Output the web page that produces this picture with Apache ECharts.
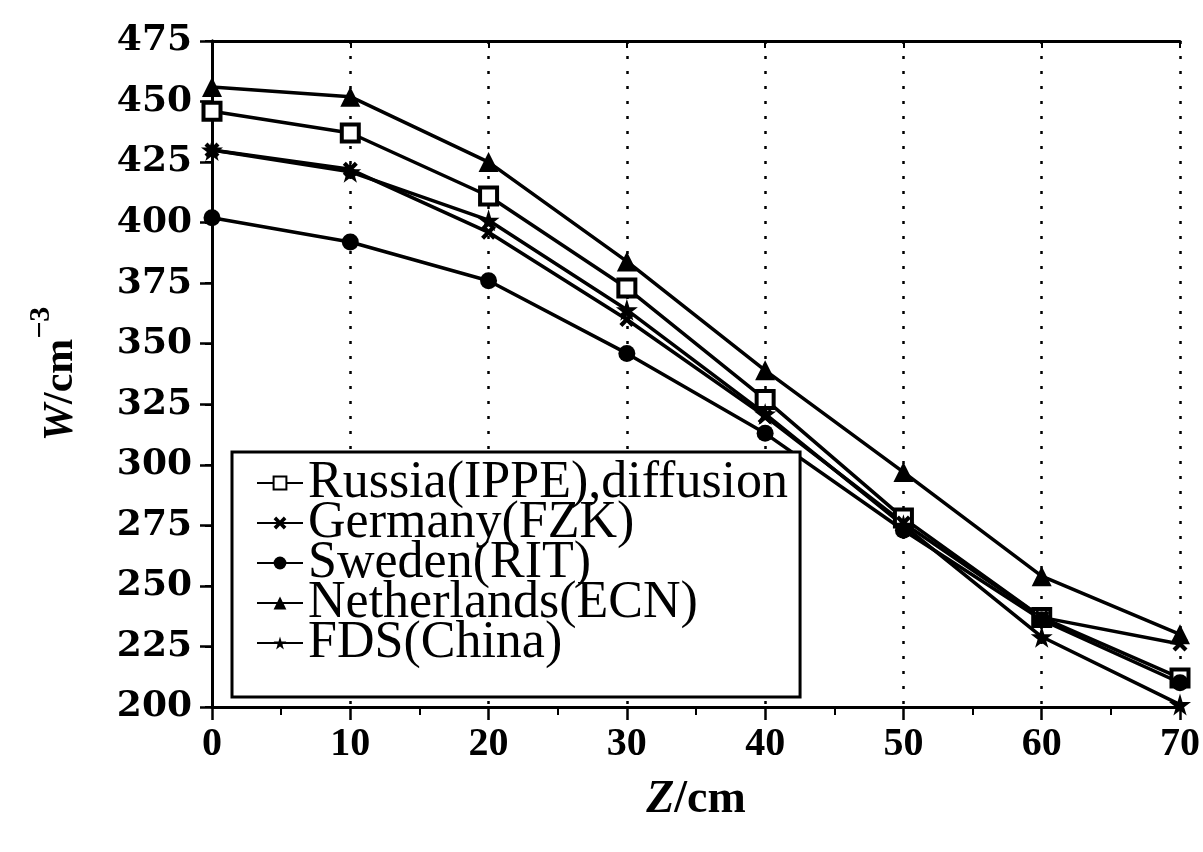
<!DOCTYPE html>
<html><head><meta charset="utf-8">
<script src="https://cdn.jsdelivr.net/npm/echarts@6/dist/echarts.min.js"></script>
<style>html,body{margin:0;padding:0;background:#fff}#c{width:1203px;height:852px}</style>
</head><body><div id="c"></div><script>
const zValues = [0, 10, 20, 30, 40, 50, 60, 70];
const seriesNames = ['Russia(IPPE),diffusion', 'Germany(FZK)', 'Sweden(RIT)', 'Netherlands(ECN)', 'FDS(China)'];
const russia = [446, 437, 411, 373, 327, 278, 237, 212];
const germany = [430, 422, 396, 360, 320, 276, 237, 226];
const sweden = [402, 392, 376, 346, 313, 273, 236, 210];
const netherlands = [456, 452, 425, 384, 339, 297, 254, 230];
const fds = [430, 421, 401, 364, 321, 275, 229, 201];

const pairs = arr => zValues.map((z, i) => [z, arr[i]]);
const crossPath = 'path://M0,2 L2,0 L5,3 L8,0 L10,2 L7,5 L10,8 L8,10 L5,7 L2,10 L0,8 L3,5 Z';
const starPath = 'path://M50,0 L61,35 L98,35 L68,57 L79,91 L50,70 L21,91 L32,57 L2,35 L39,35 Z';

function mk(name, arr, symbol, size, itemStyle) {
  return {
    name: name, type: 'line', data: pairs(arr), symbol: symbol, symbolSize: size,
    lineStyle: { color: '#000', width: 3.5 },
    itemStyle: Object.assign({ color: '#000' }, itemStyle || {}),
    emphasis: { disabled: true }, animation: false, z: 3
  };
}

const chart = echarts.init(document.getElementById('c'), null, { renderer: 'canvas' });
chart.setOption({
  backgroundColor: '#fff',
  animation: false,
  grid: { left: 212, right: 23, top: 41, bottom: 145, show: false },
  xAxis: [{
    type: 'value', min: 0, max: 70, interval: 10,
    name: '{i|Z}{n|/cm}', nameLocation: 'middle', nameGap: 70,
    nameTextStyle: {
      rich: {
        i: { fontFamily: 'Liberation Serif', fontStyle: 'italic', fontWeight: 'bold', fontSize: 46, color: '#000' },
        n: { fontFamily: 'Liberation Serif', fontWeight: 'bold', fontSize: 46, color: '#000' }
      }
    },
    axisLine: { show: true, lineStyle: { color: '#000', width: 3 } },
    axisTick: { show: true, length: 13, lineStyle: { color: '#000', width: 2.5 } },
    minorTick: { show: true, splitNumber: 2, length: 8, lineStyle: { color: '#000', width: 2 } },
    axisLabel: { color: '#000', fontFamily: 'Liberation Serif', fontWeight: 'bold', fontSize: 40, margin: 18 },
    splitLine: { show: true, lineStyle: { color: '#000', width: 2.5, type: [3, 12] } }
  }, {
    type: 'value', min: 0, max: 70, interval: 10, position: 'top',
    axisLine: { show: true, lineStyle: { color: '#000', width: 3 } },
    axisTick: { show: true, inside: true, length: 7, lineStyle: { color: '#000', width: 2 } },
    axisLabel: { show: false }, splitLine: { show: false }
  }],
  yAxis: [{
    type: 'value', min: 200, max: 475, interval: 25,
    name: '{w|W}{n|/cm}{s|−3}', nameLocation: 'middle', nameGap: 130,
    nameTextStyle: {
      rich: {
        w: { fontFamily: 'Liberation Serif', fontStyle: 'italic', fontWeight: 'bold', fontSize: 42, color: '#000', lineHeight: 56, verticalAlign: 'bottom' },
        n: { fontFamily: 'Liberation Serif', fontWeight: 'bold', fontSize: 42, color: '#000', lineHeight: 56, verticalAlign: 'bottom' },
        s: { fontFamily: 'Liberation Serif', fontWeight: 'bold', fontSize: 30, color: '#000', lineHeight: 30, verticalAlign: 'top' }
      }
    },
    axisLine: { show: true, lineStyle: { color: '#000', width: 3 } },
    axisTick: { show: true, length: 12, lineStyle: { color: '#000', width: 2.5 } },
    axisLabel: { color: '#000', fontFamily: 'DejaVu Serif', fontWeight: 'bold', fontSize: 36, margin: 20 },
    splitLine: { show: false }
  }, {
    type: 'value', min: 200, max: 475, interval: 25, position: 'right',
    axisLine: { show: true, lineStyle: { color: '#000', width: 3 } },
    axisTick: { show: true, inside: true, length: 7, lineStyle: { color: '#000', width: 2 } },
    axisLabel: { show: false }, splitLine: { show: false }
  }],
  legend: {
    orient: 'vertical', left: 232, top: 452,
    backgroundColor: '#fff', borderColor: '#000', borderWidth: 3,
    padding: [5, 12, 28, 24], itemGap: -12, itemWidth: 46, itemHeight: 16,
    textStyle: { fontFamily: 'Liberation Serif', fontSize: 52, color: '#000' },
    data: seriesNames, z: 10
  },
  series: [
    mk(seriesNames[0], russia, 'rect', 17, { color: '#fff', borderColor: '#000', borderWidth: 4 }),
    mk(seriesNames[1], germany, crossPath, 15),
    mk(seriesNames[2], sweden, 'circle', 17),
    mk(seriesNames[3], netherlands, 'triangle', 20),
    mk(seriesNames[4], fds, starPath, 22)
  ]
});
</script></body></html>
